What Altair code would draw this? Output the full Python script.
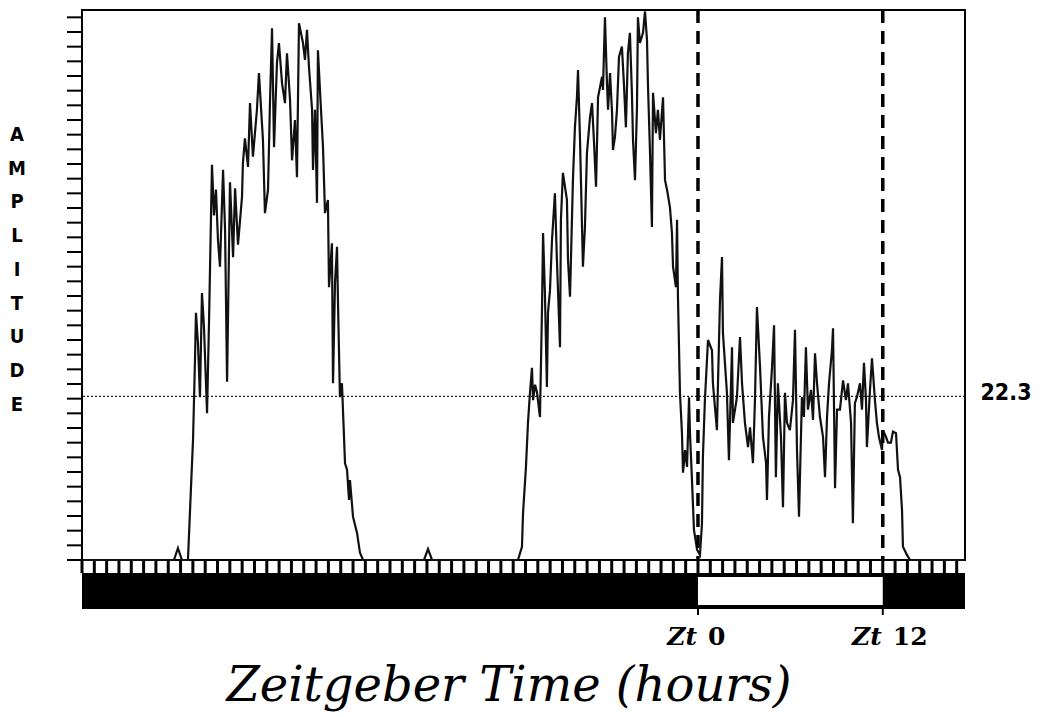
import altair as alt
import pandas as pd

# ---- data (hours relative to Zt 0, amplitude units) ----
pre_dark = [(-40.00, 0.0), (-34.03, 0.0), (-33.77, 1.6), (-33.51, 0.0), (-33.12, 0.0)]

hump1 = [
    (-32.92, 10.0), (-32.79, 16.4), (-32.66, 27.5), (-32.60, 33.7), (-32.47, 29.6),
    (-32.34, 22.2), (-32.21, 36.4), (-32.08, 31.8), (-31.88, 20.0), (-31.75, 32.7),
    (-31.56, 53.9), (-31.43, 47.0), (-31.30, 50.5), (-31.17, 43.6), (-31.04, 40.0),
    (-30.84, 53.2), (-30.71, 45.0), (-30.58, 24.3), (-30.39, 51.5), (-30.19, 41.3),
    (-30.06, 50.7), (-29.87, 43.0), (-29.61, 49.5), (-29.55, 54.1), (-29.42, 57.5),
    (-29.22, 53.6), (-29.09, 62.3), (-28.90, 55.0), (-28.64, 61.4), (-28.51, 66.4),
    (-28.25, 57.3), (-28.12, 47.3), (-27.92, 50.5), (-27.79, 62.7), (-27.66, 72.5),
    (-27.53, 56.3), (-27.34, 67.8), (-27.21, 70.5), (-27.01, 65.0), (-26.82, 62.3),
    (-26.69, 69.1), (-26.49, 62.7), (-26.36, 54.5), (-26.17, 60.0), (-26.04, 52.2),
    (-25.91, 73.2), (-25.65, 70.5), (-25.52, 68.2), (-25.39, 72.3), (-25.26, 67.2),
    (-25.06, 61.4), (-25.00, 53.2), (-24.87, 61.4), (-24.74, 48.7), (-24.68, 69.5),
    (-24.48, 61.4), (-24.35, 56.3), (-24.22, 47.3), (-24.03, 49.1), (-23.96, 37.2),
    (-23.77, 43.2), (-23.70, 24.1), (-23.57, 37.8), (-23.44, 42.7), (-23.38, 35.5),
    (-23.25, 22.2), (-23.12, 24.1), (-22.92, 13.2), (-22.79, 12.3), (-22.66, 8.2),
    (-22.60, 10.9), (-22.40, 5.9), (-22.14, 3.7), (-21.95, 1.0), (-21.75, 0.0),
]

mid_dark = [(-17.79, 0.0), (-17.53, 1.5), (-17.27, 0.0), (-11.69, 0.0)]

hump2 = [
    (-11.43, 1.8), (-11.36, 6.4), (-11.17, 12.7), (-11.04, 18.7), (-10.91, 22.8),
    (-10.78, 26.2), (-10.71, 21.8), (-10.58, 23.9), (-10.45, 22.8), (-10.26, 19.5),
    (-10.13, 34.1), (-10.06, 44.6), (-9.94, 36.4), (-9.81, 23.6), (-9.74, 33.7),
    (-9.61, 36.8), (-9.48, 43.6), (-9.29, 50.0), (-9.16, 40.9), (-8.96, 29.0),
    (-8.90, 46.4), (-8.77, 52.8), (-8.51, 49.1), (-8.44, 40.9), (-8.31, 35.9),
    (-8.12, 51.8), (-7.99, 59.0), (-7.86, 63.1), (-7.79, 66.8), (-7.66, 57.3),
    (-7.47, 40.0), (-7.34, 45.4), (-7.21, 55.5), (-7.01, 60.4), (-6.88, 62.3),
    (-6.75, 56.9), (-6.62, 50.9), (-6.49, 63.1), (-6.23, 65.9), (-6.17, 64.1),
    (-6.04, 74.0), (-5.91, 65.0), (-5.84, 61.4), (-5.71, 66.4), (-5.58, 61.0),
    (-5.52, 55.9), (-5.39, 57.7), (-5.26, 61.4), (-5.13, 68.6), (-4.94, 70.0),
    (-4.81, 65.0), (-4.68, 59.0), (-4.55, 69.1), (-4.42, 71.9), (-4.29, 63.7),
    (-4.22, 57.3), (-4.09, 51.8), (-3.96, 61.8), (-3.90, 74.0), (-3.77, 70.5),
    (-3.57, 71.9), (-3.44, 74.8), (-3.31, 70.9), (-3.25, 65.0), (-3.12, 55.9),
    (-2.99, 45.4), (-2.92, 63.7), (-2.73, 58.2), (-2.60, 61.4), (-2.47, 57.3),
    (-2.27, 63.1), (-2.14, 51.8), (-2.01, 50.5), (-1.82, 48.1), (-1.69, 44.6),
    (-1.62, 40.0), (-1.43, 37.2), (-1.36, 46.4), (-1.30, 35.9), (-1.17, 22.8),
    (-1.04, 17.3), (-0.97, 11.9), (-0.84, 15.0), (-0.71, 12.7), (-0.58, 22.2),
    (-0.52, 17.3), (-0.39, 10.9), (-0.26, 4.1), (-0.06, 1.4),
]

light = [
    (0.13, 0.7), (0.26, 5.0), (0.32, 14.0), (0.45, 21.8), (0.65, 30.0),
    (0.91, 28.6), (0.97, 24.1), (1.23, 17.7), (1.30, 24.1), (1.43, 35.5),
    (1.56, 41.3), (1.62, 31.0), (1.88, 22.8), (2.01, 13.6), (2.21, 29.0),
    (2.27, 18.7), (2.53, 22.2), (2.73, 30.4), (2.86, 24.1), (3.05, 18.7),
    (3.25, 15.4), (3.38, 18.1), (3.57, 13.2), (3.70, 21.8), (3.83, 34.5),
    (4.03, 26.3), (4.22, 16.8), (4.42, 13.2), (4.48, 8.2), (4.61, 19.5),
    (4.81, 26.3), (4.94, 32.0), (5.06, 11.3), (5.19, 24.1), (5.39, 16.8),
    (5.52, 7.2), (5.65, 22.8), (5.78, 18.7), (5.97, 17.7), (6.17, 21.8),
    (6.30, 31.4), (6.43, 15.0), (6.56, 5.9), (6.75, 22.2), (6.88, 19.5),
    (7.01, 29.0), (7.14, 20.5), (7.34, 23.2), (7.47, 19.1), (7.60, 28.2),
    (7.73, 24.1), (7.92, 19.5), (8.12, 16.8), (8.25, 11.3), (8.38, 19.5),
    (8.51, 24.1), (8.70, 28.6), (8.77, 31.6), (8.90, 9.8), (9.03, 20.5),
    (9.22, 20.5), (9.42, 24.5), (9.61, 21.8), (9.74, 24.1), (9.94, 18.7),
    (10.06, 5.0), (10.19, 21.4), (10.32, 22.2), (10.52, 24.1), (10.65, 20.5),
    (10.78, 26.9), (10.91, 21.8), (10.97, 15.4), (11.17, 23.2), (11.30, 27.5),
    (11.49, 21.8), (11.62, 18.7), (11.75, 16.8), (11.95, 15.0), (12.01, 17.7),
]

late_dark = [
    (12.21, 16.8), (12.34, 16.0), (12.53, 16.0), (12.66, 17.5), (12.86, 17.3),
    (12.99, 12.3), (13.12, 11.3), (13.25, 6.8), (13.31, 1.8), (13.57, 0.7),
    (13.77, 0.0), (17.34, 0.0),
]

mean_level = 22.3
zt_marks = [0, 12]
zt_numbers = ["0", "12"]
light_on = 0
light_off = 12
bin_hours = 0.8
x_start, x_end = -40.0, 17.34
y_max = 75
y_tick_step = 2

# ---- build tables ----
points = pre_dark + hump1 + mid_dark + hump2 + light + late_dark
trace_df = pd.DataFrame(points, columns=["t", "a"])
zt_df = pd.DataFrame({"zt": zt_marks, "num": zt_numbers})
lp_df = pd.DataFrame({"on": [light_on], "off": [light_off]})
lvl_df = pd.DataFrame({"level": [mean_level], "label": [f"{mean_level}"]})
one_df = pd.DataFrame({"k": [0]})

n_bins = int(round((x_end - x_start) / bin_hours))
x_ticks = [round(x_start + i * bin_hours, 2) for i in range(n_bins + 1)
           if x_start + i * bin_hours <= x_end]
y_ticks = list(range(0, y_max, y_tick_step))
xt_df = pd.DataFrame({"tick": x_ticks})
yt_df = pd.DataFrame({"tick": y_ticks})

W, H = 883, 550
xs = alt.Scale(domain=[x_start, x_end], nice=False, zero=False)
ys = alt.Scale(domain=[0, y_max], nice=False, zero=False)

# bottom light/dark bar
dark_bar = alt.Chart(one_df).mark_rect(color="black").encode(
    x=alt.value(0), x2=alt.value(W), y=alt.value(563), y2=alt.value(599)
)
light_box = alt.Chart(lp_df).mark_rect(color="white").encode(
    x=alt.X("on:Q", scale=xs, axis=None), x2="off:Q",
    y=alt.value(567), y2=alt.value(595)
)
under_ticks = alt.Chart(zt_df).mark_rule(color="black", strokeWidth=2).encode(
    x=alt.X("zt:Q", scale=xs, axis=None), y=alt.value(598), y2=alt.value(605)
)

# tick rows drawn as rules
x_tick_marks = alt.Chart(xt_df).mark_rule(color="black", strokeWidth=3).encode(
    x=alt.X("tick:Q", scale=xs, axis=None), y=alt.value(H), y2=alt.value(H + 13)
)
y_tick_marks = alt.Chart(yt_df).mark_rule(color="black", strokeWidth=2).encode(
    y=alt.Y("tick:Q", scale=ys, axis=None), x=alt.value(-15), x2=alt.value(0)
)

trace = alt.Chart(trace_df).mark_line(color="#111111", strokeWidth=2.2).encode(
    x=alt.X("t:Q", scale=xs, axis=None),
    y=alt.Y("a:Q", scale=ys, axis=None),
)

level_rule = alt.Chart(lvl_df).mark_rule(color="#222222", strokeWidth=1.2, strokeDash=[2, 2]).encode(
    y=alt.Y("level:Q", scale=ys, axis=None)
)
level_text = alt.Chart(lvl_df).mark_text(
    align="center", baseline="middle", dy=-3, fontSize=23, fontWeight="bold",
    font="DejaVu Sans Condensed, Liberation Sans Narrow, DejaVu Sans", color="black"
).encode(x=alt.value(924), y=alt.Y("level:Q", scale=ys, axis=None), text="label:N")

zt_rules = alt.Chart(zt_df).mark_rule(color="black", strokeWidth=3.5, strokeDash=[13, 8]).encode(
    x=alt.X("zt:Q", scale=xs, axis=None)
)

zt_prefix = alt.Chart(zt_df).mark_text(
    text="Zt", align="right", baseline="alphabetic", dx=-1, fontSize=25,
    font="DejaVu Serif", fontStyle="italic", fontWeight="bold", color="black"
).encode(x=alt.X("zt:Q", scale=xs, axis=None), y=alt.value(635))
zt_num = alt.Chart(zt_df).mark_text(
    align="left", baseline="alphabetic", dx=10, fontSize=25, fontWeight="bold",
    font="DejaVu Serif", color="black"
).encode(x=alt.X("zt:Q", scale=xs, axis=None), y=alt.value(635), text="num:N")

title = alt.Chart(pd.DataFrame({"s": ["Zeitgeber Time (hours)"]})).mark_text(
    align="center", baseline="alphabetic", fontSize=48, font="DejaVu Serif",
    fontStyle="italic", color="black"
).encode(x=alt.value(427), y=alt.value(691), text="s:N")

ylab = alt.Chart(pd.DataFrame({"s": ["A\nM\nP\nL\nI\nT\nU\nD\nE"]})).mark_text(
    align="center", baseline="middle", lineBreak="\n", lineHeight=33.7,
    fontSize=20, fontWeight="bold",
    font="DejaVu Sans Condensed, Liberation Sans Narrow, DejaVu Sans", color="black"
).encode(x=alt.value(-65), y=alt.value(125), text="s:N")

chart = alt.layer(
    dark_bar, light_box, under_ticks, x_tick_marks, y_tick_marks, level_rule,
    trace, zt_rules, level_text, zt_prefix, zt_num, title, ylab
).properties(
    width=W, height=H,
    autosize=alt.AutoSizeParams(type="none"),
    padding={"left": 82, "top": 10, "right": 77, "bottom": 157},
    background="white",
).configure_view(stroke="black", strokeWidth=2)

chart.save("out.html", embed_options={"renderer": "svg", "actions": False})
